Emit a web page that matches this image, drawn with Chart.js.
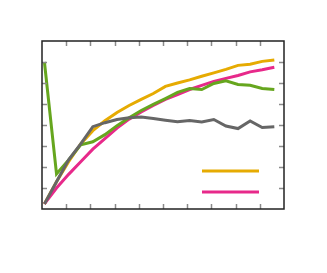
<!DOCTYPE html>
<html>
<head>
<meta charset="utf-8">
<script src="https://cdn.jsdelivr.net/npm/chart.js@4"></script>
<style>
html,body{margin:0;padding:0;background:#fff;}
#wrap{width:327px;height:273px;position:relative;}
</style>
</head>
<body>
<div id="wrap"><canvas id="c" width="327" height="273"></canvas></div>
<script>
// x positions of the samples
const xValues = [0.1, 0.6, 1.1, 1.6, 2.1, 2.6, 3.1, 3.6, 4.1, 4.6, 5.1, 5.6, 6.1, 6.6, 7.1, 7.6, 8.1, 8.6, 9.1, 9.6];
// series values
const yellowValues = [0.24, 1.3, 2.25, 3.1, 3.73, 4.2, 4.6, 4.93, 5.22, 5.5, 5.84, 6.0, 6.15, 6.32, 6.48, 6.65, 6.84, 6.89, 7.03, 7.1];
const pinkValues   = [0.24, 1.0, 1.65, 2.25, 2.85, 3.35, 3.85, 4.28, 4.62, 4.93, 5.22, 5.45, 5.69, 5.89, 6.08, 6.22, 6.36, 6.53, 6.63, 6.75];
const greenValues  = [7.0, 1.67, 2.34, 3.06, 3.2, 3.54, 3.97, 4.35, 4.69, 4.98, 5.26, 5.55, 5.74, 5.69, 5.98, 6.1, 5.93, 5.89, 5.74, 5.69];
const grayValues   = [0.24, 1.3, 2.34, 3.1, 3.92, 4.11, 4.26, 4.35, 4.38, 4.31, 4.23, 4.16, 4.21, 4.14, 4.26, 3.95, 3.83, 4.19, 3.88, 3.92];
// tick values (no labels shown)
const xTicks = [1, 2, 3, 4, 5, 6, 7, 8, 9];
const yTicks = [1, 2, 3, 4, 5, 6, 7];
// legend entries (labels empty in the reference)
const legendSeries = ['yellow', 'pink'];

const colors = {yellow:'#E6AB02', pink:'#E7298A', green:'#66A61E', gray:'#666666'};

function pts(vals){ return vals.map((v,i)=>({x:xValues[i], y:v})); }

const boxPlugin = {
  id:'boxTicks',
  afterDatasetsDraw(chart){
    const {ctx, chartArea:a, scales} = chart;
    ctx.save();
    // inside ticks
    ctx.strokeStyle = '#8a8a8a';
    ctx.lineWidth = 1.5;
    const L = 5;
    ctx.beginPath();
    xTicks.forEach(t=>{
      const px = Math.round(scales.x.getPixelForValue(t))+0.5;
      ctx.moveTo(px, a.bottom); ctx.lineTo(px, a.bottom-L);
      ctx.moveTo(px, a.top); ctx.lineTo(px, a.top+L);
    });
    yTicks.forEach(t=>{
      const py = Math.round(scales.y.getPixelForValue(t))+0.5;
      ctx.moveTo(a.left, py); ctx.lineTo(a.left+L, py);
      ctx.moveTo(a.right, py); ctx.lineTo(a.right-L, py);
    });
    ctx.stroke();
    // frame
    ctx.strokeStyle = '#222';
    ctx.lineWidth = 1.5;
    ctx.strokeRect(a.left, a.top, a.right-a.left, a.bottom-a.top);
    // legend lines
    ctx.lineWidth = 3;
    legendSeries.forEach((k,i)=>{
      const y = a.bottom - 38 + i*21;
      ctx.strokeStyle = colors[k];
      ctx.beginPath();
      ctx.moveTo(a.right-82, y); ctx.lineTo(a.right-25, y);
      ctx.stroke();
    });
    ctx.restore();
  }
};

new Chart(document.getElementById('c'), {
  type:'line',
  data:{
    datasets:[
      {label:'gray', data:pts(grayValues), borderColor:colors.gray},
      {label:'green', data:pts(greenValues), borderColor:colors.green},
      {label:'pink', data:pts(pinkValues), borderColor:colors.pink},
      {label:'yellow', data:pts(yellowValues), borderColor:colors.yellow}
    ].map(d=>Object.assign(d,{borderWidth:3, pointRadius:0, tension:0, fill:false, borderJoinStyle:'miter', clip:false}))
  },
  options:{
    responsive:false,
    animation:false,
    layout:{padding:{left:42, top:41, right:43, bottom:64}},
    plugins:{legend:{display:false}, tooltip:{enabled:false}},
    scales:{
      x:{type:'linear', min:0, max:10, display:false},
      y:{type:'linear', min:0, max:8, display:false}
    }
  },
  plugins:[boxPlugin]
});
</script>
</body>
</html>
